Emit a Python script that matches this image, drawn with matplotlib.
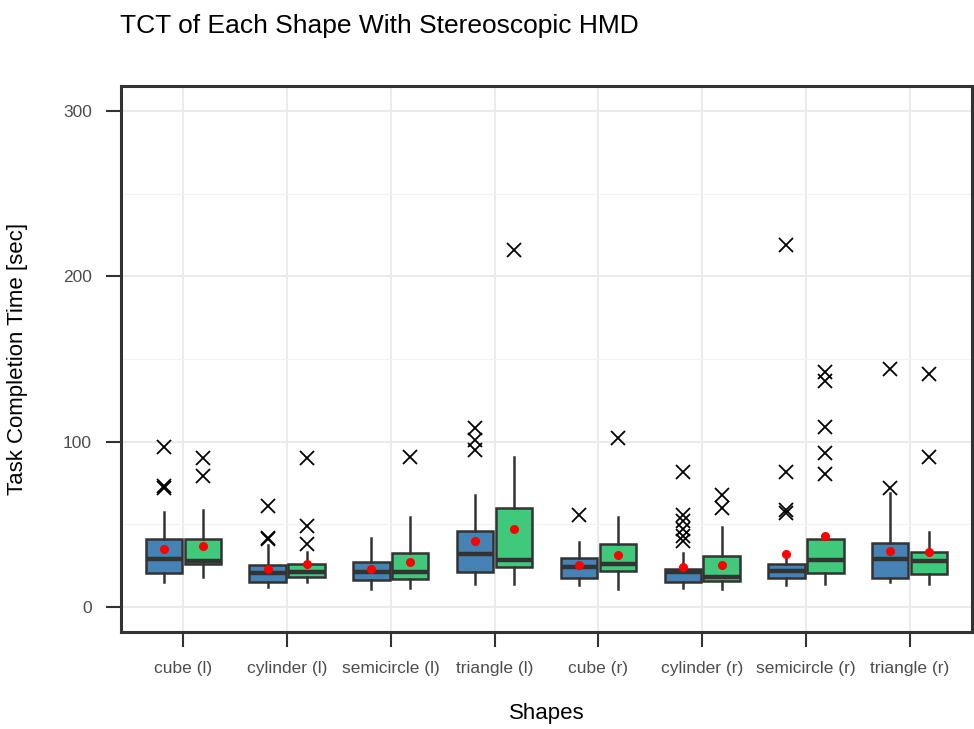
import matplotlib
matplotlib.use("Agg")
import matplotlib.pyplot as plt
from matplotlib.ticker import MultipleLocator

plt.rcParams["font.family"] = ["Liberation Sans", "DejaVu Sans"]

categories = ["cube (l)", "cylinder (l)", "semicircle (l)", "triangle (l)",
              "cube (r)", "cylinder (r)", "semicircle (r)", "triangle (r)"]

# Five-number summaries, means and outliers per shape (seconds)
blue_whislo = [15.0, 12.2, 10.8, 14.3, 13.3, 11.8, 13.3, 15.3]
blue_q1 = [20.9, 15.5, 16.5, 21.5, 17.5, 15.3, 17.9, 17.5]
blue_med = [28.9, 20.5, 21.0, 32.0, 24.0, 21.0, 22.0, 29.0]
blue_q3 = [41.0, 25.5, 27.5, 46.0, 29.5, 23.0, 25.9, 39.0]
blue_whishi = [57.5, 37.3, 41.6, 67.7, 39.6, 32.5, 28.9, 69.0]
blue_mean = [35.0, 23.0, 23.3, 40.0, 25.3, 24.3, 31.9, 34.0]
blue_fliers = [[72, 73, 97], [41, 42, 61], [], [95, 101, 108], [56],
               [40, 43, 47, 52, 56, 82], [57, 59, 82, 219], [72, 144]]

green_whislo = [18.3, 15.3, 11.8, 14.3, 10.8, 10.8, 13.9, 14.3]
green_q1 = [26.3, 18.5, 16.9, 24.3, 21.9, 16.0, 20.9, 20.3]
green_med = [28.0, 21.5, 21.0, 28.3, 26.0, 18.5, 28.3, 28.0]
green_q3 = [41.3, 26.3, 32.5, 60.0, 38.0, 30.9, 41.0, 33.3]
green_whishi = [58.6, 33.5, 54.6, 90.6, 54.6, 48.4, 44.0, 45.4]
green_mean = [36.8, 25.9, 27.3, 47.4, 31.3, 25.5, 42.8, 33.5]
green_fliers = [[79, 90], [38, 49, 90], [91], [216], [102],
                [60, 68], [80.5, 93, 109, 137, 142], [91, 141]]

BLUE = "#4682B4"
GREEN = "#41C97B"
DARK = "#333333"


def make_stats(wlo, q1, med, q3, whi, mean, fl):
    return [dict(whislo=a, q1=b, med=c, q3=d, whishi=e, mean=m, fliers=f)
            for a, b, c, d, e, m, f in zip(wlo, q1, med, q3, whi, mean, fl)]


blue_stats = make_stats(blue_whislo, blue_q1, blue_med, blue_q3,
                        blue_whishi, blue_mean, blue_fliers)
green_stats = make_stats(green_whislo, green_q1, green_med, green_q3,
                         green_whishi, green_mean, green_fliers)

fig = plt.figure(figsize=(9.74, 7.29), dpi=100)
ax = fig.add_axes([121 / 974, 1 - 632 / 729, 851 / 974, 546 / 729])

x = list(range(1, len(categories) + 1))
offset = 0.1875
width = 0.35

for stats, color, sign in [(blue_stats, BLUE, -1), (green_stats, GREEN, 1)]:
    pos = [p + sign * offset for p in x]
    ax.bxp(stats, positions=pos, widths=width, patch_artist=True,
           showmeans=True, showcaps=False, zorder=3,
           boxprops=dict(facecolor=color, edgecolor=DARK, linewidth=1.8),
           medianprops=dict(color=DARK, linewidth=3.2, solid_capstyle="butt"),
           whiskerprops=dict(color=DARK, linewidth=1.8),
           flierprops=dict(marker="x", markersize=10, markeredgecolor="black",
                           markeredgewidth=1.3, linestyle="none"),
           meanprops=dict(marker="o", markerfacecolor="red",
                          markeredgecolor="red", markersize=5.5))

ax.set_xlim(0.4, 8.6)
ax.set_ylim(-15, 315)
ax.set_xticks(x)
ax.set_xticklabels(categories)
ax.yaxis.set_major_locator(MultipleLocator(100))
ax.yaxis.set_minor_locator(MultipleLocator(50))

ax.grid(True, which="major", color="#EBEBEB", linewidth=1.5, zorder=0)
ax.grid(True, which="minor", axis="y", color="#F2F2F2", linewidth=0.9, zorder=0)
ax.set_axisbelow(True)

ax.tick_params(axis="both", which="major", length=11, width=1.5,
               color=DARK, labelcolor="#4D4D4D", labelsize=12.5, pad=10)
ax.tick_params(axis="y", which="minor", length=0)

for s in ax.spines.values():
    s.set_color(DARK)
    s.set_linewidth(2.2)

ax.set_xlabel("Shapes", fontsize=16, color="black", va="center")
ax.xaxis.set_label_coords(0.5, (632 - 714) / 546)
ax.set_ylabel("Task Completion Time [sec]", fontsize=16, color="black", va="center")
ax.yaxis.set_label_coords((18 - 121) / 851, 0.5)

fig.text(120 / 974, 1 - 33 / 729, "TCT of Each Shape With Stereoscopic HMD",
         fontsize=19, color="black", ha="left", va="baseline")

fig.savefig("out.png", dpi=100, facecolor="white")
